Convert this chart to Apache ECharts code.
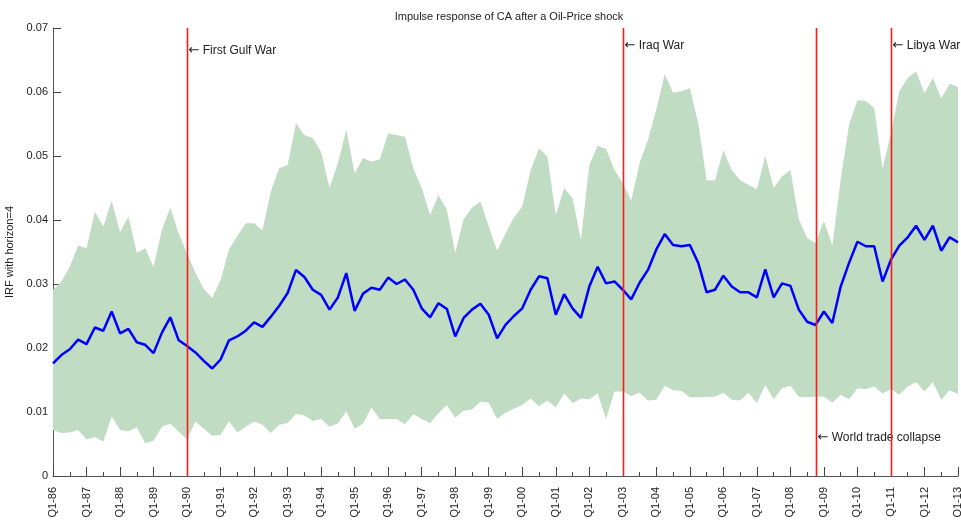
<!DOCTYPE html>
<html>
<head>
<meta charset="utf-8">
<title>Impulse response of CA after a Oil-Price shock</title>
<script src="https://cdn.jsdelivr.net/npm/echarts@6/dist/echarts.min.js"></script>
<style>
  html, body { margin: 0; padding: 0; background: #fff; }
  #chart { width: 961px; height: 520px; }
</style>
</head>
<body>
<div id="chart"></div>
<script>
// quarters Q1-86 .. Q1-13
const firstYear = 1986;
const lastYear = 2013;

// IRF (horizon=4), median and band
const irfMid = [
  0.0176, 0.0189, 0.0198, 0.0213, 0.0206, 0.0232, 0.0227, 0.0257, 0.0223, 0.0230,
  0.0209, 0.0205, 0.0192, 0.0224, 0.0248, 0.0212, 0.0203, 0.0193, 0.0180, 0.0168,
  0.0182, 0.0212, 0.0218, 0.0227, 0.0240, 0.0233, 0.0249, 0.0266, 0.0286, 0.0322,
  0.0311, 0.0291, 0.0283, 0.0260, 0.0279, 0.0317, 0.0258, 0.0285, 0.0294, 0.0291,
  0.0310, 0.0300, 0.0307, 0.0291, 0.0262, 0.0248, 0.0270, 0.0261, 0.0218, 0.0247,
  0.0260, 0.0269, 0.0252, 0.0215, 0.0236, 0.0250, 0.0262, 0.0291, 0.0312, 0.0309,
  0.0252, 0.0284, 0.0262, 0.0247, 0.0296, 0.0327, 0.0301, 0.0304, 0.0291, 0.0276,
  0.0302, 0.0322, 0.0354, 0.0378, 0.0361, 0.0359, 0.0361, 0.0333, 0.0287, 0.0291,
  0.0313, 0.0296, 0.0287, 0.0287, 0.0279, 0.0323, 0.0279, 0.0301, 0.0297, 0.0260,
  0.0241, 0.0236, 0.0257, 0.0239, 0.0296, 0.0333, 0.0366, 0.0359, 0.0359, 0.0304,
  0.0338, 0.0360, 0.0373, 0.0391, 0.0369, 0.0391, 0.0352, 0.0373, 0.0365
];
const irfUpper = [
  0.0291, 0.0304, 0.0327, 0.0360, 0.0356, 0.0413, 0.0390, 0.0430, 0.0381, 0.0405,
  0.0349, 0.0356, 0.0327, 0.0385, 0.0419, 0.0379, 0.0348, 0.0317, 0.0292, 0.0278,
  0.0306, 0.0354, 0.0375, 0.0395, 0.0395, 0.0384, 0.0445, 0.0481, 0.0486, 0.0551,
  0.0533, 0.0528, 0.0506, 0.0450, 0.0489, 0.0541, 0.0473, 0.0497, 0.0491, 0.0495,
  0.0535, 0.0533, 0.0530, 0.0481, 0.0450, 0.0408, 0.0439, 0.0416, 0.0349, 0.0401,
  0.0419, 0.0429, 0.0390, 0.0352, 0.0379, 0.0404, 0.0421, 0.0478, 0.0512, 0.0499,
  0.0408, 0.0450, 0.0434, 0.0369, 0.0486, 0.0516, 0.0511, 0.0478, 0.0458, 0.0430,
  0.0489, 0.0525, 0.0573, 0.0628, 0.0599, 0.0601, 0.0606, 0.0551, 0.0462, 0.0462,
  0.0509, 0.0478, 0.0462, 0.0455, 0.0448, 0.0500, 0.0450, 0.0468, 0.0478, 0.0401,
  0.0372, 0.0364, 0.0399, 0.0360, 0.0463, 0.0549, 0.0587, 0.0586, 0.0575, 0.0480,
  0.0536, 0.0601, 0.0622, 0.0632, 0.0598, 0.0622, 0.0590, 0.0613, 0.0608
];
const irfLower = [
  0.0072, 0.0067, 0.0068, 0.0072, 0.0057, 0.0061, 0.0054, 0.0093, 0.0072, 0.0070,
  0.0076, 0.0051, 0.0055, 0.0077, 0.0082, 0.0069, 0.0057, 0.0085, 0.0074, 0.0063,
  0.0064, 0.0085, 0.0068, 0.0077, 0.0085, 0.0080, 0.0067, 0.0080, 0.0083, 0.0097,
  0.0095, 0.0086, 0.0089, 0.0077, 0.0082, 0.0101, 0.0074, 0.0082, 0.0107, 0.0089,
  0.0089, 0.0089, 0.0081, 0.0097, 0.0089, 0.0083, 0.0098, 0.0111, 0.0091, 0.0102,
  0.0104, 0.0116, 0.0115, 0.0089, 0.0099, 0.0105, 0.0111, 0.0121, 0.0109, 0.0118,
  0.0107, 0.0129, 0.0114, 0.0121, 0.0120, 0.0129, 0.0089, 0.0132, 0.0132, 0.0125,
  0.0130, 0.0118, 0.0119, 0.0141, 0.0134, 0.0133, 0.0123, 0.0123, 0.0124, 0.0124,
  0.0130, 0.0119, 0.0118, 0.0130, 0.0114, 0.0142, 0.0120, 0.0137, 0.0141, 0.0124,
  0.0123, 0.0124, 0.0124, 0.0115, 0.0127, 0.0120, 0.0137, 0.0136, 0.0140, 0.0129,
  0.0136, 0.0127, 0.0140, 0.0147, 0.0132, 0.0147, 0.0119, 0.0134, 0.0128
];

// events: category label, text, height of the text
const eventQuarters = ['Q1-90', 'Q1-03', 'Q4-08', 'Q1-11'];
const eventNames = ['First Gulf War', 'Iraq War', 'World trade collapse', 'Libya War'];
const eventTextY = [0.0665, 0.0673, 0.0060, 0.0673];

const yMin = 0;
const yMax = 0.07;

const quarters = [];
for (let y = firstYear; y <= lastYear; y++) {
  for (let q = 1; q <= 4; q++) {
    if (y === lastYear && q > 1) break;
    quarters.push('Q' + q + '-' + String(y).slice(2));
  }
}

const bandWidth = irfUpper.map((v, i) => +(v - irfLower[i]).toFixed(4));

const font = 'Liberation Sans, Arial, sans-serif';
const eventRed = '#ff1a1a';
const chart = echarts.init(document.getElementById('chart'));

chart.setOption({
  animation: false,
  backgroundColor: '#fff',
  textStyle: { fontFamily: font },
  title: {
    text: 'Impulse response of CA after a Oil-Price shock',
    left: 504,
    top: 6,
    textAlign: 'center',
    textStyle: { fontSize: 11, fontWeight: 'normal', color: '#222', fontFamily: font }
  },
  grid: { left: 53, right: 3, top: 28, bottom: 44, containLabel: false, outerBoundsMode: 'none' },
  xAxis: [
    {
      type: 'category',
      data: quarters,
      boundaryGap: false,
      axisLine: { lineStyle: { color: '#555', width: 1 } },
      axisTick: { inside: true, length: 9, interval: 3, lineStyle: { color: '#444' } },
      axisLabel: { interval: 3, rotate: 90, fontSize: 11, color: '#222', margin: 11, fontFamily: font },
      splitLine: { show: false }
    },
    {
      // minor ticks every half year
      type: 'category',
      data: quarters,
      boundaryGap: false,
      position: 'bottom',
      axisLine: { show: false },
      axisTick: { inside: true, length: 4, interval: 1, lineStyle: { color: '#444' } },
      axisLabel: { show: false },
      splitLine: { show: false }
    }
  ],
  yAxis: {
    type: 'value',
    min: yMin,
    max: yMax,
    interval: 0.01,
    name: 'IRF with horizon=4',
    nameLocation: 'middle',
    nameGap: 29,
    nameTextStyle: { fontSize: 11, color: '#222', fontFamily: font },
    axisLine: { show: true, lineStyle: { color: '#555', width: 1 } },
    axisTick: { show: true, inside: true, length: 8, lineStyle: { color: '#444' } },
    axisLabel: { fontSize: 11, color: '#222', margin: 5, fontFamily: font },
    splitLine: { show: false }
  },
  series: [
    {
      name: 'lower',
      type: 'line',
      data: irfLower,
      stack: 'band',
      symbol: 'none',
      lineStyle: { opacity: 0 },
      silent: true,
      z: 2
    },
    {
      name: 'band',
      type: 'line',
      data: bandWidth,
      stack: 'band',
      symbol: 'none',
      lineStyle: { opacity: 0 },
      areaStyle: { color: '#c0dcc2', opacity: 1 },
      silent: true,
      z: 1
    },
    {
      name: 'IRF',
      type: 'line',
      data: irfMid,
      symbol: 'none',
      lineStyle: { color: '#0000ff', width: 2.5 },
      z: 4
    },
    {
      // vertical event lines over full axis height, with their text
      name: 'events',
      type: 'custom',
      data: eventQuarters.map((q, i) => [q, yMin, yMax, eventTextY[i], i]),
      renderItem: function (params, api) {
        const p0 = api.coord([api.value(0), api.value(1)]);
        const p1 = api.coord([api.value(0), api.value(2)]);
        const pt = api.coord([api.value(0), api.value(3)]);
        const x = Math.round(p0[0]) + 0.5;
        return {
          type: 'group',
          children: [
            {
              type: 'line',
              shape: { x1: x, y1: p0[1], x2: x, y2: p1[1] },
              style: { stroke: eventRed, lineWidth: 1.6 }
            },
            {
              type: 'text',
              x: x + 1,
              y: pt[1],
              style: {
                text: '{a|\u2190} ' + eventNames[api.value(4)],
                fill: '#222',
                font: '12px Liberation Sans, Arial, sans-serif',
                verticalAlign: 'middle',
                align: 'left',
                rich: {
                  a: { font: '13px DejaVu Sans', fill: '#222' }
                }
              }
            }
          ]
        };
      },
      silent: true,
      z: 5
    }
  ]
});
</script>
</body>
</html>
